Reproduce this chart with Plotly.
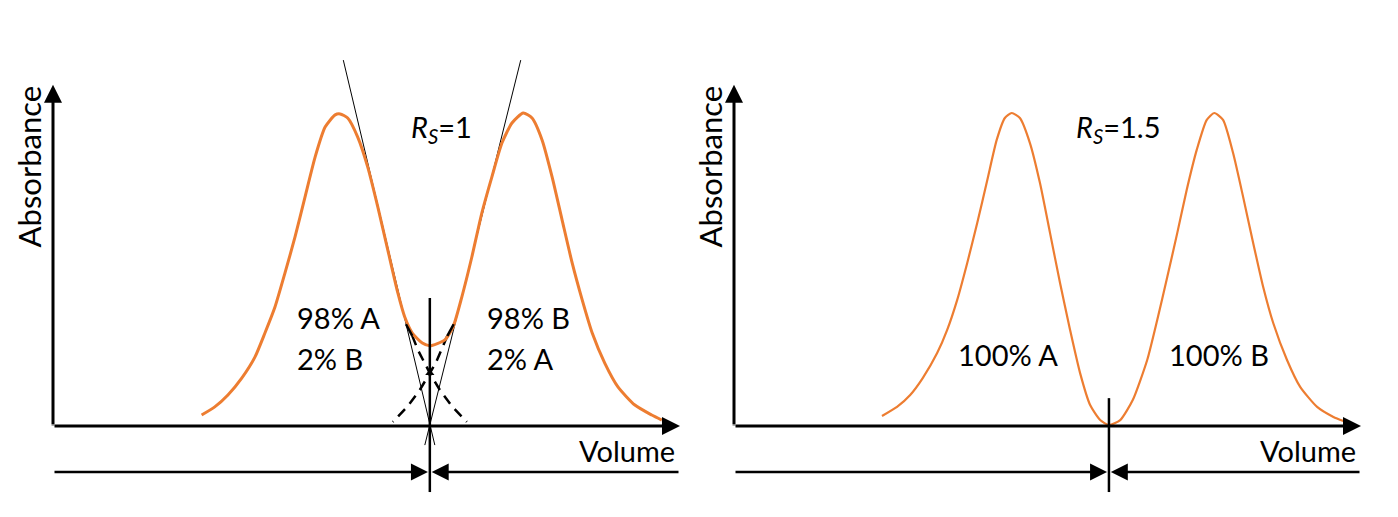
import plotly.graph_objects as go

# pixel geometry (layout only)
PAGE_PAD = 8              # the page body margin the figure sits in
FW, FH = 1398 - PAGE_PAD, 517 - PAGE_PAD
ORIGIN_X = [53, 734]      # px of the volume=0 origin in each panel
ORIGIN_Y = 426            # px of absorbance=0
PX_PER_V = 6.27           # px per volume unit
PX_PER_A = 3.13           # px per absorbance unit

ORANGE = '#ED7D31'
FONT = 'Lato'

# axis extents (arbitrary units)
V_END = 100
A_END = 109
DIM_A = -14.7             # level of the dimension line below the axis

# left panel: Rs = 1, overlapping peaks
left_v = [23.7, 25.8, 27.9, 30.1, 32.2, 33.8, 35.4, 37.0, 38.6, 40.2, 41.8, 43.4, 45.0, 45.8,
          47.0, 48.6, 50.2, 51.8, 53.4, 55.0, 56.1, 57.3, 58.9, 60.1, 61.3, 62.5, 63.8, 65.2,
          66.8, 68.4, 70.0, 71.6, 73.2, 75.0, 76.4, 78.0, 79.6, 81.2, 82.8, 84.4, 86.0, 88.0,
          90.1, 92.8, 95.5, 97.1]
left_a = [3.5, 6.1, 9.9, 15.3, 22.0, 29.7, 38.0, 48.9, 60.4, 73.2, 85.9, 95.5, 99.4, 99.7,
          98.4, 92.3, 82.7, 70.0, 56.2, 42.5, 34.8, 29.7, 26.5, 25.6, 26.3, 27.5, 31.6, 41.2,
          54.0, 68.1, 79.6, 90.4, 96.8, 100.0, 98.4, 91.4, 79.6, 65.8, 52.1, 40.3, 29.7, 20.1,
          12.5, 6.7, 3.5, 1.9]

# individual peak tails under the valley (dashed)
tail_a_v = [56.3, 57.3, 58.2, 59.2, 60.1, 61.7, 63.6, 66.0]
tail_a_a = [32.5, 28.8, 24.3, 20.4, 16.9, 11.5, 6.4, 1.3]
tail_b_v = [63.9, 62.9, 62.0, 61.1, 60.1, 58.5, 56.6, 54.2]
tail_b_a = [32.5, 28.8, 24.3, 20.4, 16.9, 11.5, 6.4, 1.3]

# tangents through the inflection points
tan_a_v = [46.3, 60.9]
tan_a_a = [116.9, -6.1]
tan_b_v = [74.6, 59.3]
tan_b_a = [116.9, -6.1]

left_cut_v = 60.1
left_cut_a = [40.9, -21.1]

# right panel: Rs = 1.5, baseline separated peaks
right_v = [23.6, 26.0, 28.1, 30.1, 32.4, 34.0, 35.6, 37.2, 38.8, 40.4, 41.9, 43.2, 44.3, 45.6,
           47.2, 48.8, 50.4, 52.0, 53.6, 55.2, 56.8, 58.4, 59.8, 61.6, 63.6, 65.9, 67.5, 69.1,
           70.7, 72.2, 73.8, 75.4, 76.6, 78.0, 79.6, 81.2, 82.8, 84.4, 86.0, 88.2, 90.3, 93.0,
           95.6, 97.2]
right_a = [3.2, 6.1, 9.9, 15.3, 23.3, 30.7, 40.3, 52.1, 64.9, 78.6, 91.4, 98.4, 100.0, 98.4,
           90.4, 77.6, 61.7, 45.7, 30.7, 16.9, 6.7, 1.9, 0.3, 1.9, 8.3, 21.1, 33.9, 47.6,
           61.7, 75.4, 88.2, 97.8, 100.0, 97.8, 87.2, 73.2, 58.5, 44.4, 32.9, 21.1, 12.5, 6.1,
           2.9, 1.6]

right_cut_v = 59.8
right_cut_a = [8.9, -21.1]

dim_tip_gap = 0.3   # arrow tips just either side of the cut line

fig = go.Figure()


def v_range(i, d0, d1):
    lo = (d0 * FW + PAGE_PAD - ORIGIN_X[i]) / PX_PER_V
    hi = (d1 * FW + PAGE_PAD - ORIGIN_X[i]) / PX_PER_V
    return [lo, hi]


a_range = [(ORIGIN_Y - FH - PAGE_PAD) / PX_PER_A, (ORIGIN_Y - PAGE_PAD) / PX_PER_A]


def arrow(v0, a0, v1, a1, xa, ya, width=3, head_len=18):
    # arrowhead 2 is a straight-backed triangle, 5 units long per unit of width
    fig.add_annotation(x=v1, y=a1, ax=v0, ay=a0, xref=xa, yref=ya, axref=xa, ayref=ya,
                       text='', showarrow=True, arrowhead=2, arrowcolor='black',
                       arrowwidth=width, arrowsize=head_len / (5 * width), standoff=0)


def line(v, a, xa, ya, color='black', width=1, dash='solid'):
    fig.add_trace(go.Scatter(
        x=v, y=a, xaxis=xa, yaxis=ya, mode='lines',
        line=dict(color=color, width=width, dash=dash),
        showlegend=False, hoverinfo='skip'))


for xa, ya in [('x', 'y'), ('x2', 'y2')]:
    arrow(0, 0, 0, A_END, xa, ya)
    arrow(0, 0, V_END, 0, xa, ya)
    line([0, 0], [0, 0.1], xa, ya, width=3)

# left panel
line(tan_a_v, tan_a_a, 'x', 'y', width=1)
line(tan_b_v, tan_b_a, 'x', 'y', width=1)
line(tail_a_v[1:], tail_a_a[1:], 'x', 'y', width=2.5, dash='10px,7px')
line(tail_b_v[1:], tail_b_a[1:], 'x', 'y', width=2.5, dash='10px,7px')
fig.add_trace(go.Scatter(x=left_v, y=left_a, xaxis='x', yaxis='y', mode='lines',
                         line=dict(color=ORANGE, width=3, shape='spline', smoothing=0.6),
                         showlegend=False, hoverinfo='skip'))
line(tail_a_v[:2], tail_a_a[:2], 'x', 'y', width=2.5)
line(tail_b_v[:2], tail_b_a[:2], 'x', 'y', width=2.5)
line([left_cut_v, left_cut_v], left_cut_a, 'x', 'y', width=2.5)
fig.add_trace(go.Scatter(x=[tail_a_v[4]], y=[tail_a_a[4]], xaxis='x', yaxis='y', mode='markers',
                         marker=dict(symbol='triangle-up', size=8, color='black'),
                         showlegend=False, hoverinfo='skip'))
arrow(0, DIM_A, left_cut_v - dim_tip_gap, DIM_A, 'x', 'y', width=2.5, head_len=17)
arrow(V_END, DIM_A, left_cut_v + dim_tip_gap, DIM_A, 'x', 'y', width=2.5, head_len=17)

# right panel
fig.add_trace(go.Scatter(x=right_v, y=right_a, xaxis='x2', yaxis='y2', mode='lines',
                         line=dict(color=ORANGE, width=2.2, shape='spline', smoothing=0.6),
                         showlegend=False, hoverinfo='skip'))
line([right_cut_v, right_cut_v], right_cut_a, 'x2', 'y2', width=2.5)
arrow(0, DIM_A, right_cut_v - dim_tip_gap, DIM_A, 'x2', 'y2', width=2.5, head_len=17)
arrow(V_END, DIM_A, right_cut_v + dim_tip_gap, DIM_A, 'x2', 'y2', width=2.5, head_len=17)

# text
txt = dict(font=dict(family=FONT, size=29, color='black'), showarrow=False)
for xa, ya in [('x', 'y'), ('x2', 'y2')]:
    fig.add_annotation(x=-3.8, y=83, xref=xa, yref=ya, text='Absorbance', textangle=-90,
                       font=dict(family=FONT, size=31, color='black'), showarrow=False)
    fig.add_annotation(x=99.5, y=-7.7, xref=xa, yref=ya, text='Volume', xanchor='right', **txt)

fig.add_annotation(x=62.0, y=95.0, xref='x', yref='y', text='<i>R</i><sub><i>S</i></sub>=1', **txt)
fig.add_annotation(x=61.4, y=95.0, xref='x2', yref='y2', text='<i>R</i><sub><i>S</i></sub>=1.5', **txt)

fig.add_annotation(x=38.6, y=34.8, xref='x', yref='y', text='98% A', xanchor='left', **txt)
fig.add_annotation(x=38.6, y=21.7, xref='x', yref='y', text='2% B', xanchor='left', **txt)
fig.add_annotation(x=68.9, y=34.8, xref='x', yref='y', text='98% B', xanchor='left', **txt)
fig.add_annotation(x=68.9, y=21.7, xref='x', yref='y', text='2% A', xanchor='left', **txt)
fig.add_annotation(x=35.4, y=22.7, xref='x2', yref='y2', text='100% A', xanchor='left', **txt)
fig.add_annotation(x=69.1, y=22.7, xref='x2', yref='y2', text='100% B', xanchor='left', **txt)

hidden = dict(visible=False, showgrid=False, zeroline=False, fixedrange=True)
fig.update_layout(
    width=FW, height=FH,
    margin=dict(l=0, r=0, t=0, b=0),
    plot_bgcolor='white', paper_bgcolor='white',
    xaxis=dict(domain=[0, 0.5], range=v_range(0, 0, 0.5), **hidden),
    xaxis2=dict(domain=[0.5, 1], range=v_range(1, 0.5, 1), **hidden),
    yaxis=dict(domain=[0, 1], range=a_range, **hidden),
    yaxis2=dict(domain=[0, 1], range=a_range, anchor='x2', **hidden),
)

fig.write_html("out.html")
